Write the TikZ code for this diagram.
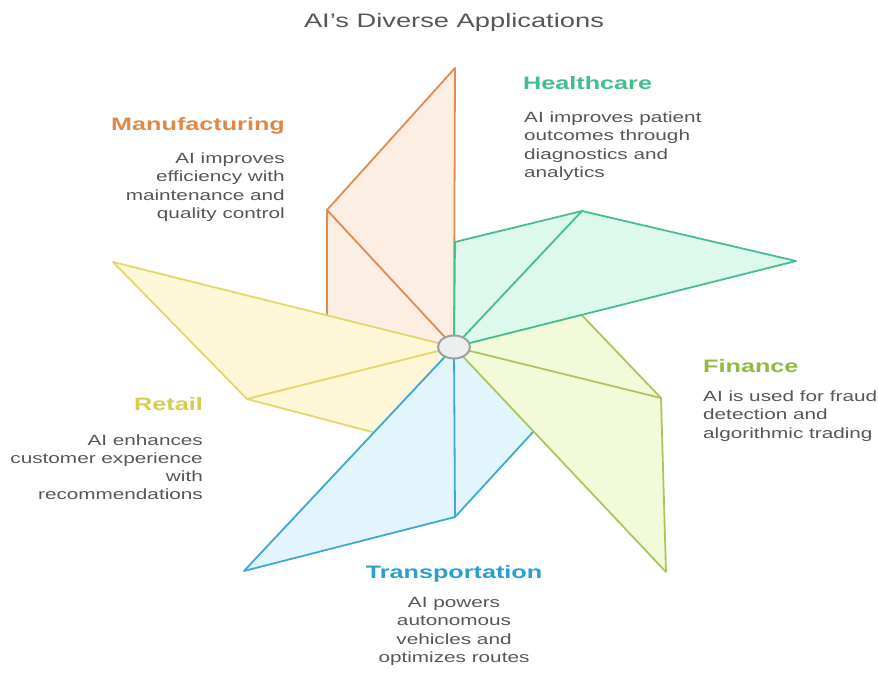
\documentclass[tikz,border=0pt]{standalone}
\usepackage{fontspec}
\setmainfont{Liberation Sans}
\usepackage{graphicx}
\usetikzlibrary{shapes.geometric}
\definecolor{txtgray}{HTML}{565656}
\definecolor{orgS}{HTML}{E38A4E}\definecolor{orgF}{HTML}{FDEEE3}\definecolor{orgT}{HTML}{E08848}
\definecolor{grnS}{HTML}{45BF8D}\definecolor{grnF}{HTML}{DDF8EC}\definecolor{grnT}{HTML}{3EBF8C}
\definecolor{limS}{HTML}{A8C85E}\definecolor{limF}{HTML}{F2FADA}\definecolor{limT}{HTML}{8FBA3E}
\definecolor{bluS}{HTML}{3CA8D6}\definecolor{bluF}{HTML}{E3F5FC}\definecolor{bluT}{HTML}{2B9FCC}
\definecolor{yelS}{HTML}{E2D66C}\definecolor{yelF}{HTML}{FEF7D7}\definecolor{yelT}{HTML}{D6CD4E}
\definecolor{hubF}{HTML}{EDEEF0}\definecolor{hubS}{HTML}{A0A0A0}
\newcommand\stretchtxt[1]{\scalebox{1.4}[1]{#1}}
\begin{document}
\begin{tikzpicture}[x=1pt,y=-1pt,
  bladeshape/.style={draw=#1S, fill=#1F, line width=1.8pt, line join=round},
  creaseline/.style={draw=#1S, line width=1.8pt, line cap=round},
  headtxt/.style={text=#1T, font=\bfseries\fontsize{18}{22}\selectfont, inner sep=0pt},
  bodytxt/.style={text=txtgray, font=\fontsize{14.8}{18.3}\selectfont, inner sep=0pt}]
\useasboundingbox (0,0) rectangle (878,672);
% hub centre
\coordinate (C) at (454,347);
% Manufacturing (orange)
\coordinate (oP) at (327,328); \coordinate (oA) at (327,210); \coordinate (oT) at (455,68);
% Healthcare (green)
\coordinate (gP) at (455,242); \coordinate (gA) at (582,211); \coordinate (gT) at (796,261);
% Finance (lime)
\coordinate (lP) at (575,308); \coordinate (lA) at (661,398); \coordinate (lT) at (666,572);
% Transportation (blue)
\coordinate (bP) at (545,419); \coordinate (bA) at (455,517); \coordinate (bT) at (244,571);
% Retail (yellow)
\coordinate (yP) at (395,438); \coordinate (yA) at (247,399); \coordinate (yT) at (113,262);

\path[bladeshape=org] (C) -- (oP) -- (oA) -- (oT) -- cycle;
\draw[creaseline=org] (C) -- (oA);
\path[bladeshape=yel] (C) -- (yP) -- (yA) -- (yT) -- cycle;
\draw[creaseline=yel] (C) -- (yA);
\path[bladeshape=blu] (C) -- (bP) -- (bA) -- (bT) -- cycle;
\draw[creaseline=blu] (C) -- (bA);
\path[bladeshape=lim] (C) -- (lP) -- (lA) -- (lT) -- cycle;
\draw[creaseline=lim] (C) -- (lA);
\path[bladeshape=grn] (C) -- (gP) -- (gA) -- (gT) -- cycle;
\draw[creaseline=grn] (C) -- (gA);

\node (hub) [ellipse, draw=hubS, fill=hubF, line width=2pt, minimum width=32pt, minimum height=23pt, inner sep=0pt] at (C) {};

% title
\node (title) [anchor=base, text=txtgray, font=\fontsize{19.5}{24}\selectfont, inner sep=0pt] at (454,27) {\stretchtxt{AI's Diverse Applications}};

% Manufacturing
\node (mfgHead) [headtxt=org, anchor=base east] at (285,130.5) {\stretchtxt{Manufacturing}};
\node (mfgBody) [bodytxt, anchor=base east] at (285,163.5) {\stretchtxt{\begin{tabular}[t]{@{}r@{}}AI improves\\efficiency with\\maintenance and\\quality control\end{tabular}}};
% Healthcare
\node (hcHead) [headtxt=grn, anchor=base west] at (523,89.5) {\stretchtxt{Healthcare}};
\node (hcBody) [bodytxt, anchor=base west] at (524,122.5) {\stretchtxt{\begin{tabular}[t]{@{}l@{}}AI improves patient\\outcomes through\\diagnostics and\\analytics\end{tabular}}};
% Finance
\node (finHead) [headtxt=lim, anchor=base west] at (703,372.5) {\stretchtxt{Finance}};
\node (finBody) [bodytxt, anchor=base west] at (703,401.5) {\stretchtxt{\begin{tabular}[t]{@{}l@{}}AI is used for fraud\\detection and\\algorithmic trading\end{tabular}}};
% Retail
\node (retHead) [headtxt=yel, anchor=base east] at (203,410.5) {\stretchtxt{Retail}};
\node (retBody) [bodytxt, anchor=base east] at (203,445) {\stretchtxt{\begin{tabular}[t]{@{}r@{}}AI enhances\\customer experience\\with\\recommendations\end{tabular}}};
% Transportation
\node (trHead) [headtxt=blu, anchor=base] at (454,578.5) {\stretchtxt{Transportation}};
\node (trBody) [bodytxt, anchor=base] at (454,607.5) {\stretchtxt{\begin{tabular}[t]{@{}c@{}}AI powers\\autonomous\\vehicles and\\optimizes routes\end{tabular}}};
\end{tikzpicture}
\end{document}
